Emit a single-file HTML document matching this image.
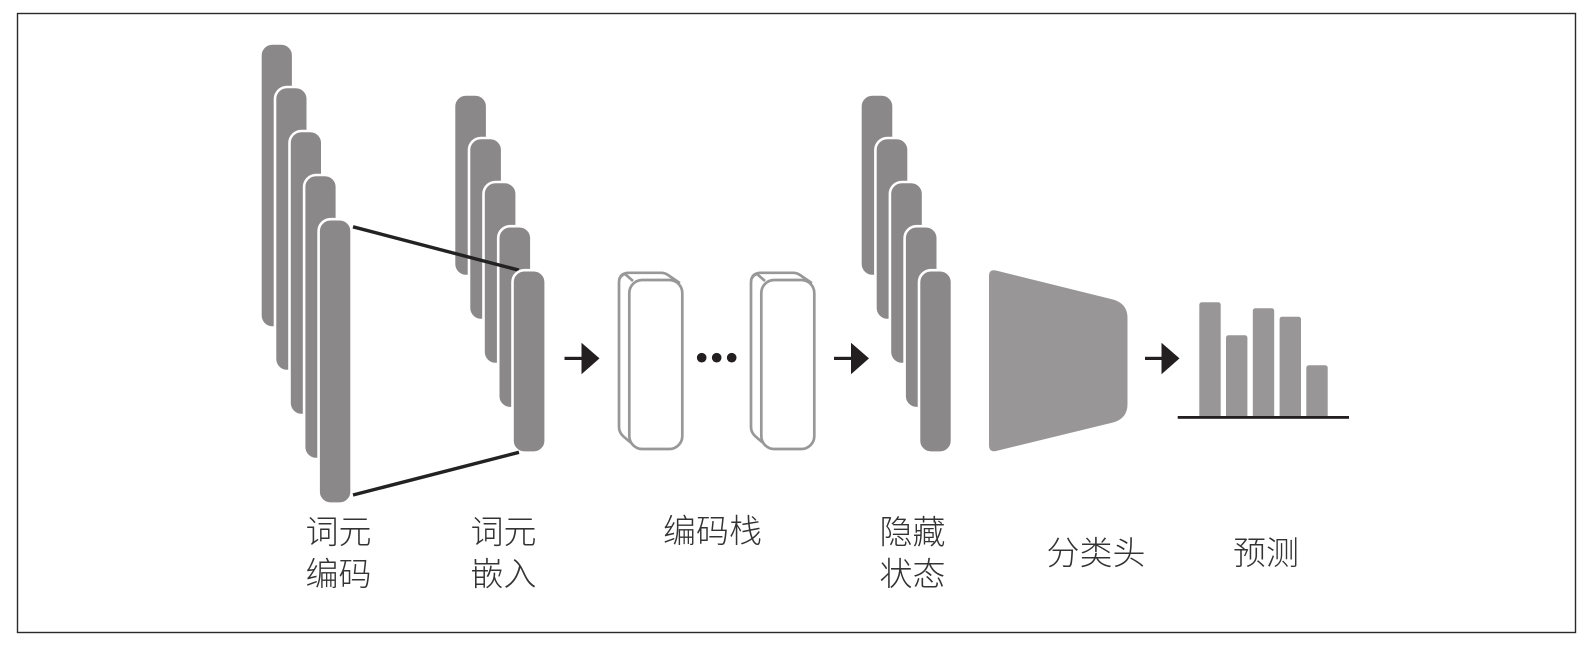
<!DOCTYPE html>
<html lang="zh">
<head>
<meta charset="utf-8">
<style>
html,body{margin:0;padding:0;background:#fff;width:1592px;height:647px;overflow:hidden}
svg{display:block;filter:blur(0.35px)}
text{font-family:"Liberation Sans","Noto Sans CJK SC",sans-serif;font-size:33px;fill:#333;text-anchor:middle;font-weight:300}
</style>
</head>
<body>
<svg width="1592" height="647" viewBox="0 0 1592 647" xmlns="http://www.w3.org/2000/svg">
<rect x="17.5" y="13.5" width="1558" height="619" fill="#fff" stroke="#2a2a2a" stroke-width="1.4"/>

<!-- stack 1 -->
<g fill="#8a8888" stroke="#fff" stroke-width="2.600">
<rect x="260.400" y="43.500" width="32.800" height="284" rx="12"/>
<rect x="275" y="87" width="32.800" height="284" rx="12"/>
<rect x="289.500" y="131" width="32.800" height="284" rx="12"/>
<rect x="304.100" y="175" width="32.800" height="284" rx="12"/>
<rect x="318.600" y="219.200" width="33" height="284.500" rx="12"/>
</g>
<!-- stack 2 -->
<g fill="#8a8888" stroke="#fff" stroke-width="2.600">
<rect x="454" y="94.500" width="33.200" height="181.500" rx="12"/>
<rect x="469" y="138" width="33.200" height="182" rx="12"/>
<rect x="483.500" y="182" width="33.200" height="182" rx="12"/>
<rect x="498.200" y="226.200" width="33.200" height="182" rx="12"/>
</g>
<line x1="353" y1="226.800" x2="519" y2="270.200" stroke="#222" stroke-width="3.400"/>
<rect x="512.500" y="270.200" width="33.200" height="182.500" rx="12" fill="#8a8888" stroke="#fff" stroke-width="2.600"/>
<line x1="353" y1="495" x2="519" y2="452.300" stroke="#222" stroke-width="3.400"/>

<!-- arrows -->
<g fill="#231f20" stroke="none">
<rect x="564.500" y="356.800" width="20" height="3.200"/>
<polygon points="581.500,342.800 599.500,358.400 581.500,374.200"/>
<rect x="834" y="356.800" width="20" height="3.200"/>
<polygon points="851,342.800 869,358.400 851,374.200"/>
<rect x="1145" y="356.800" width="20" height="3.200"/>
<polygon points="1161.500,342.800 1179.500,358.400 1161.500,374.200"/>
</g>

<!-- encoder blocks -->
<g fill="#fff" stroke="#989898" stroke-width="2.700" stroke-linejoin="round">
<g>
<path d="M630 442 L623.500 436.500 Q619 432.500 619 427 L619 283 Q619 272.800 629 272.800 L661 272.800 Q665 272.800 668 275 L679 282.500 L640 281 Z"/>
<path d="M619 280 Q621 275 625 274 L633 281"/>
<rect x="629.300" y="280" width="53" height="169" rx="13"/>
</g>
<g>
<path d="M762 442 L755.500 436.500 Q751 432.500 751 427 L751 283 Q751 272.800 761 272.800 L793 272.800 Q797 272.800 800 275 L811 282.500 L772 281 Z"/>
<path d="M751 280 Q753 275 757 274 L765 281"/>
<rect x="761.300" y="280" width="53" height="169" rx="13"/>
</g>
</g>
<g fill="#231f20">
<circle cx="701.700" cy="357.700" r="4.800"/>
<circle cx="716.700" cy="357.700" r="4.800"/>
<circle cx="731.700" cy="357.700" r="4.800"/>
</g>

<!-- stack 3 -->
<g fill="#8a8888" stroke="#fff" stroke-width="2.600">
<rect x="860.400" y="94.500" width="33.200" height="181.500" rx="12"/>
<rect x="875.400" y="138" width="33.200" height="182" rx="12"/>
<rect x="889.900" y="182" width="33.200" height="182" rx="12"/>
<rect x="904.600" y="226.200" width="33.200" height="182" rx="12"/>
<rect x="919" y="270.200" width="33" height="182.500" rx="12"/>
</g>

<!-- trapezoid -->
<path d="M989 276 Q989 269 996 270.500 L1113 299.500 Q1127.500 303.500 1127.500 318 L1127.500 404 Q1127.500 418.500 1113 422.500 L996 451 Q989 452.500 989 445 Z" fill="#989696"/>

<!-- bars -->
<g fill="#989696">
<rect x="1199.300" y="302.300" width="21.400" height="116" rx="2.500"/>
<rect x="1226" y="335.300" width="21.400" height="83" rx="2.500"/>
<rect x="1252.800" y="308.300" width="21.400" height="110" rx="2.500"/>
<rect x="1279.600" y="316.700" width="21.400" height="101.600" rx="2.500"/>
<rect x="1306.300" y="365.300" width="21.400" height="53" rx="2.500"/>
</g>
<rect x="1177.700" y="416" width="171.300" height="2.800" fill="#231f20"/>

<!-- labels -->
<text x="338.500" y="543.500">词元</text>
<text x="338.500" y="585.500">编码</text>
<text x="503.500" y="543.500">词元</text>
<text x="503.500" y="585.500">嵌入</text>
<text x="712.500" y="542.500">编码栈</text>
<text x="912.500" y="543.500">隐藏</text>
<text x="912.500" y="585.500">状态</text>
<text x="1096" y="564.500">分类头</text>
<text x="1266" y="564.500">预测</text>
</svg>
</body>
</html>
